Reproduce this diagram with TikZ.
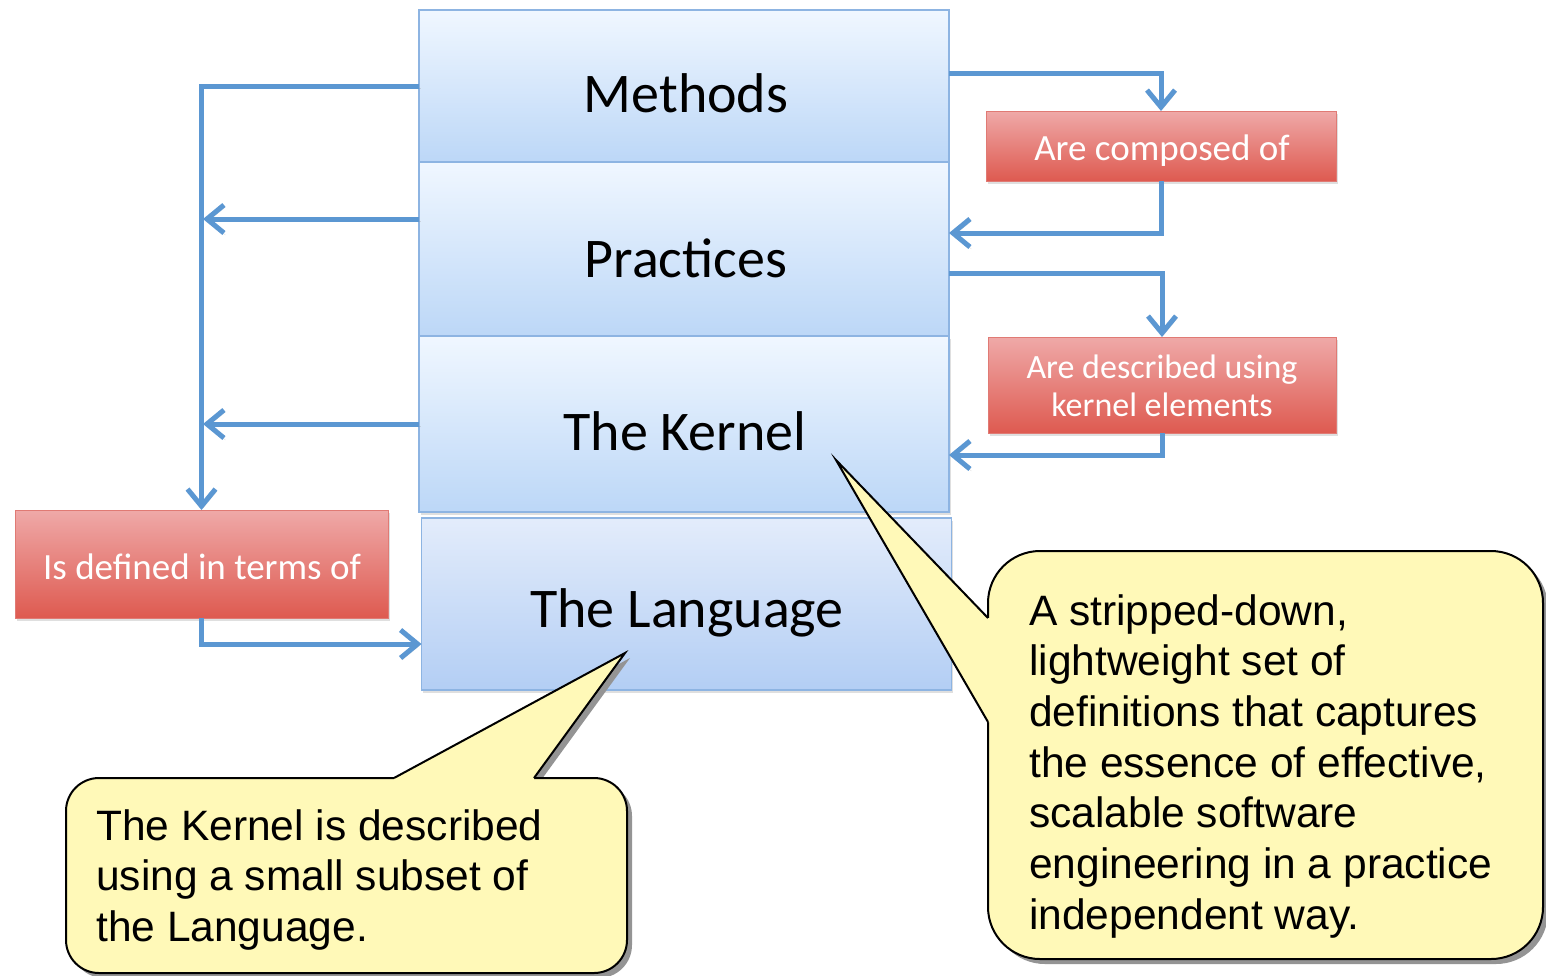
\documentclass[tikz,border=0pt]{standalone}
\usepackage{fontspec}
\setmainfont{Carlito}
\newfontfamily\notefont{Liberation Sans}
\usetikzlibrary{arrows.meta,calc,shadows}

\definecolor{layertop}{HTML}{F0F7FF}
\definecolor{layerbot}{HTML}{BCD7F7}
\definecolor{langtop}{HTML}{E3ECFB}
\definecolor{langbot}{HTML}{B3CEF4}
\definecolor{layerline}{HTML}{8DB4E2}
\definecolor{reltop}{HTML}{EFA9A8}
\definecolor{relbot}{HTML}{DE5A50}
\definecolor{relline}{HTML}{E07A74}
\definecolor{connblue}{HTML}{5B97D2}
\definecolor{notefill}{HTML}{FFF9B8}

\tikzset{
  layer/.style={draw=layerline, line width=1.5pt, top color=layertop,
    bottom color=layerbot, inner sep=0pt, outer sep=0pt, minimum width=530pt},
  relbox/.style={draw=relline, line width=1pt, top color=reltop,
    bottom color=relbot, inner sep=0pt, outer sep=0pt,
    drop shadow={shadow xshift=1.5pt, shadow yshift=-2.5pt, opacity=0.25}},
  layerlabel/.style={font=\fontsize{56}{67}\selectfont, inner sep=0pt, anchor=base},
  rellabel/.style={text=white, font=\fontsize{37}{45}\selectfont,
    inner sep=0pt, anchor=base},
  conn/.style={draw=connblue, line width=5pt,
    -{Straight Barb[length=17pt,width=28pt]},
    preaction={draw=black!40, opacity=0.3,
      transform canvas={shift={(1.5pt,-2pt)}}}},
  notebox/.style={draw=black, line width=2pt, fill=notefill,
    inner sep=0pt, outer sep=0pt},
  noteline/.style={draw=black, line width=2pt},
  notetext/.style={font=\notefont\fontsize{42.5}{50.7}\selectfont,
    inner sep=0pt, anchor=base west, align=left},
  noteshadow/.style={fill=black!42},
}

\begin{document}
\begin{tikzpicture}[x=1pt,y=-1pt]
\useasboundingbox (0,0) rectangle (1546,975);
\fill[white] (0,0) rectangle (1546,975);

% layered stack
\node[layer, minimum height=152pt] (methods)   at (684,86)  {};
\node[layer, minimum height=174pt] (practices) at (684,249) {};
\node[layer, minimum height=176pt,
      drop shadow={shadow xshift=1.5pt, shadow yshift=-2.5pt, opacity=0.25}]
      (kernel) at (684,424) {};
\node[layer, top color=langtop, bottom color=langbot, minimum height=172pt,
      drop shadow={shadow xshift=1.5pt, shadow yshift=-2.5pt, opacity=0.25}]
      (language) at (686.5,604) {};

% relation boxes
\node[relbox, minimum width=350pt, minimum height=70pt]  (composed)  at (1161,146) {};
\node[relbox, minimum width=348pt, minimum height=96pt]  (described) at (1162,385) {};
\node[relbox, minimum width=373pt, minimum height=108pt] (defined)   at (201.5,564) {};

% labels (multi-line nodes are placed by the baseline of their last line)
\node[layerlabel] (methodsT)   at (686,112) {Methods};
\node[layerlabel] (practicesT) at (686,277) {Practices};
\node[layerlabel] (kernelT)    at (685,450) {The Kernel};
\node[layerlabel] (languageT)  at (687,627) {The Language};

\node[rellabel] (composedT) at (1162,160) {Are composed of};
\node[rellabel, align=center, font=\fontsize{34}{38}\selectfont]
  (describedT) at (1162,416) {Are described using\\kernel elements};
\node[rellabel] (definedT) at (202,579) {Is defined in terms of};

% connectors
\draw[conn] (methods.west) -| (defined.north);
\draw[conn] ([yshift=30pt]practices.west) -- ++(-216,0);
\draw[conn] (kernel.west) -- ++(-216,0);
\draw[conn] ([yshift=13pt]methods.east) -| (composed.north);
\draw[conn] (composed.south) |- ([yshift=16pt]practices.east);
\draw[conn] ([yshift=-24pt]practices.east) -| (described.north);
\draw[conn] (described.south) |- ([yshift=-31pt]kernel.east);
\draw[conn] (defined.south) |- ([yshift=-40pt]language.west);

% callout about the language
\fill[noteshadow, rounded corners=33pt] (71,783) rectangle (632,978);
\fill[noteshadow] (630,658) -- (399,783) -- (539,783) -- cycle;
\node[notebox, rounded corners=33pt, minimum width=561pt, minimum height=195pt]
  (note1) at (346.5,875.5) {};
\fill[notefill] (625,653) -- (394,778) -- (394,783) -- (534,783) -- (534,778) -- cycle;
\draw[noteline] (394,778) -- (625,653) -- (534,778);
\node[notetext] (note1T) at (96,941.4)
  {The Kernel is described\\using a small subset of\\the Language.};

% callout about the kernel
\fill[noteshadow, rounded corners=52pt] (993,556) rectangle (1548,964);
\fill[noteshadow] (841,465) -- (993,623) -- (993,727) -- cycle;
\node[notebox, rounded corners=52pt, minimum width=555pt, minimum height=408pt]
  (note2) at (1265.5,755) {};
\fill[notefill] (836,460) -- (988,618) -- (993,618) -- (993,722) -- (988,722) -- cycle;
\draw[noteline] (988,618) -- (836,460) -- (988,722);
\node[notetext] (note2T) at (1029,929.2)
  {A stripped-down,\\lightweight set of\\definitions that captures\\the essence of effective,\\scalable software\\engineering in a practice\\independent way.};
\end{tikzpicture}
\end{document}
